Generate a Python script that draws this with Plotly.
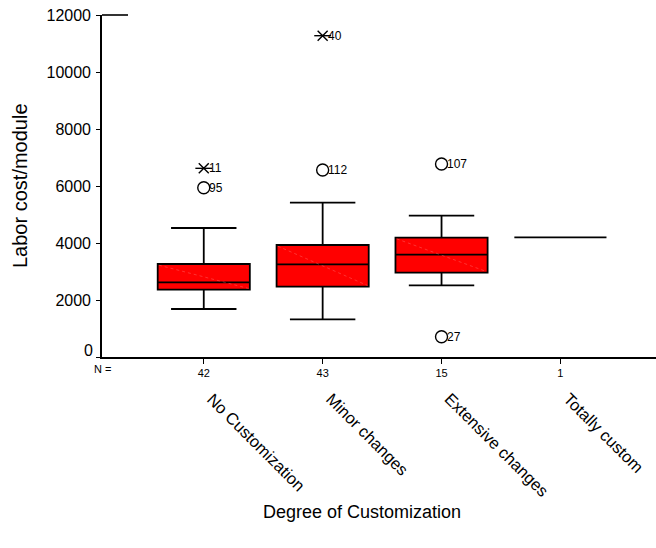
import plotly.graph_objects as go

# Labor cost per module by degree of customization (box summary per group)
categories = ["No Customization", "Minor changes", "Extensive changes", "Totally custom"]
n_counts = [42, 43, 15, 1]
lower_whisker = [1684, 1322, 2515, 4200]
q1 = [2362, 2468, 2959, 4200]
median = [2621, 3252, 3591, 4200]
q3 = [3263, 3930, 4187, 4200]
upper_whisker = [4526, 5415, 4958, 4200]

# Flagged cases: group index, value, case number, kind
outlier_group = [0, 0, 1, 1, 2, 2]
outlier_value = [6620, 5940, 11274, 6561, 6772, 712]
outlier_case = ["11", "95", "40", "112", "107", "27"]
outlier_kind = ["extreme", "outlier", "extreme", "outlier", "outlier", "outlier"]

y_ticks = [0, 2000, 4000, 6000, 8000, 10000, 12000]
y_tick_text = ["0", "2000", "4000", "6000", "8000", "10000", "12000"]

FONT = "Arial, Liberation Sans, sans-serif"
BOX_W = 0.775

fig = go.Figure()

for i in range(len(categories)):
    fig.add_trace(go.Box(
        x=[i], q1=[q1[i]], median=[median[i]], q3=[q3[i]],
        lowerfence=[lower_whisker[i]], upperfence=[upper_whisker[i]],
        width=BOX_W, whiskerwidth=0.71,
        fillcolor="#ff0000", line=dict(color="black", width=1.8),
        boxpoints=False, hoverinfo="skip", showlegend=False,
    ))
    # faint diagonal seam across the filled box
    if q3[i] > q1[i]:
        fig.add_trace(go.Scatter(
            x=[i - BOX_W / 2 + 0.01, i + BOX_W / 2 - 0.01], y=[q3[i] - 40, q1[i] + 40],
            mode="lines", line=dict(color="rgba(255,150,150,0.55)", width=0.6, dash="dot"),
            hoverinfo="skip", showlegend=False,
        ))

ox = [outlier_group[k] for k in range(len(outlier_value)) if outlier_kind[k] == "outlier"]
oy = [outlier_value[k] for k in range(len(outlier_value)) if outlier_kind[k] == "outlier"]
ex = [outlier_group[k] for k in range(len(outlier_value)) if outlier_kind[k] == "extreme"]
ey = [outlier_value[k] for k in range(len(outlier_value)) if outlier_kind[k] == "extreme"]

fig.add_trace(go.Scatter(
    x=ox, y=oy, mode="markers",
    marker=dict(symbol="circle-open", size=12, color="black", line=dict(width=1.4, color="black")),
    hoverinfo="skip", showlegend=False,
))
for sym, sz in (("x-thin-open", 10), ("line-ew-open", 12)):
    fig.add_trace(go.Scatter(
        x=ex, y=ey, mode="markers",
        marker=dict(symbol=sym, size=sz, color="black", line=dict(width=1.4, color="black")),
        hoverinfo="skip", showlegend=False,
    ))

annotations = []
for k in range(len(outlier_value)):
    annotations.append(dict(
        x=outlier_group[k], y=outlier_value[k], xref="x", yref="y",
        text=outlier_case[k], showarrow=False, xanchor="left", yanchor="middle",
        xshift=3, font=dict(family=FONT, size=12, color="black"),
    ))

# rotated category names below the N row
for i, name in enumerate(categories):
    annotations.append(dict(
        x=i, y=-0.088, xref="x", yref="paper", text=name, textangle=45,
        showarrow=False, xanchor="left", yanchor="top", xshift=-3,
        font=dict(family=FONT, size=16.5, color="black"),
    ))

# the zero label sits a little above its tick, clear of the N row
annotations.append(dict(
    x=0, y=y_ticks[0], xref="paper", yref="y", text=y_tick_text[0], showarrow=False,
    xanchor="right", yanchor="middle", xshift=-7, yshift=7,
    font=dict(family=FONT, size=16, color="black"),
))

annotations.append(dict(
    x=0.0, y=-0.035, xref="paper", yref="paper", text="N =", showarrow=False,
    xanchor="center", yanchor="middle", font=dict(family=FONT, size=11, color="black"),
))
annotations.append(dict(
    x=(362 - 102) / 554, y=(357 - 512) / 342, xref="paper", yref="paper",
    text="Degree of Customization", showarrow=False, xanchor="center", yanchor="middle",
    font=dict(family=FONT, size=18, color="black"),
))
annotations.append(dict(
    x=(20 - 102) / 554, y=(357 - 186) / 342, xref="paper", yref="paper",
    text="Labor cost/module", textangle=-90, showarrow=False,
    xanchor="center", yanchor="middle", font=dict(family=FONT, size=20, color="black"),
))

fig.update_layout(
    width=656, height=548,
    margin=dict(l=102, r=0, t=15, b=191),
    paper_bgcolor="white", plot_bgcolor="white",
    annotations=annotations,
    shapes=[dict(type="line", xref="paper", yref="paper", x0=0, x1=0.047, y0=1, y1=1,
                 line=dict(color="black", width=1.6))],
    showlegend=False,
)
fig.update_xaxes(
    range=[-0.856, 3.804], tickmode="array",
    tickvals=list(range(len(categories))), ticktext=[str(n) for n in n_counts],
    ticks="outside", ticklen=5, tickwidth=1.3, tickcolor="black",
    showline=True, linecolor="black", linewidth=1.6,
    showgrid=False, zeroline=False,
    tickfont=dict(family=FONT, size=11, color="black"),
)
fig.update_yaxes(
    range=[0, 12000], tickmode="array", tickvals=y_ticks,
    ticktext=[""] + y_tick_text[1:],
    ticks="outside", ticklen=4, tickwidth=1.3, tickcolor="black",
    showline=True, linecolor="black", linewidth=1.6,
    showgrid=False, zeroline=False, ticklabelstandoff=2,
    ticklabeloverflow="allow",
    tickfont=dict(family=FONT, size=16, color="black"),
)

fig.write_html("out.html")
